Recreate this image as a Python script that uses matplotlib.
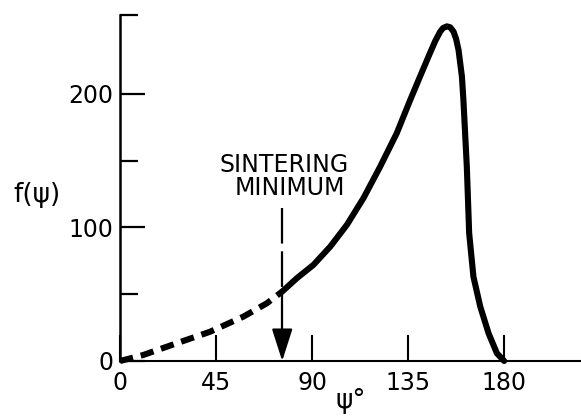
#!/usr/bin/env python

import numpy
import matplotlib
matplotlib.use('Agg')
import matplotlib.pyplot as plt

# angle psi (deg) and f(psi)
psi_dashed = [0., 10.9, 26.6, 42.2, 57.8, 68.8, 76.]
f_dashed = [0., 4.5, 13.3, 21.9, 33.2, 43.2, 52.]
psi_solid = [76., 82.8, 90.6, 98.5, 106.3, 114.1, 121.9, 129.7, 136.0, 140.6, 145.3,
             147.7, 150.0, 151.4, 153.2, 154.7, 156.3, 157.5, 158.6, 160.2, 160.9,
             162.5, 163.6, 165.6, 168.8, 172.7, 176.6, 180.]
f_solid = [52., 61.9, 71.9, 85.6, 101.9, 122., 145.5, 170.6, 195.5, 213.0, 230.7,
           239.5, 246.5, 249.3, 250.5, 249.8, 246.5, 241.0, 233.0, 213.0, 195.5,
           145.5, 95.7, 63.1, 40.7, 20.7, 5.8, 0.]

sinter_min = 76.        # deg, arrow position
xticks = [0, 45, 90, 135, 180]
yticks_major = [0, 100, 200]
yticks_minor = [50, 150, 259]
xlim = (0, 216); ylim = (0, 259)

def main():
  fig = plt.figure(figsize=(5.81, 4.16), dpi=100)
  ax = fig.add_axes([120/581., 55/416., 461/581., 346/416.])
  ax.set_xlim(*xlim); ax.set_ylim(*ylim)

  lw = 4.4
  ax.plot(psi_dashed, f_dashed, 'k', linewidth=lw, linestyle=(0, (2.2, 1.3)),
          solid_capstyle='butt', dash_capstyle='butt', clip_on=False)
  ax.plot(psi_solid, f_solid, 'k', linewidth=lw, solid_joinstyle='round',
          solid_capstyle='round', clip_on=False)

  # sintering minimum arrow
  ax.plot([sinter_min, sinter_min], [114.6, 18.], 'k', linewidth=1.6,
          linestyle=(0, (16, 3.5)))
  ax.annotate('', xy=(sinter_min, 0.), xytext=(sinter_min, 21.),
              arrowprops=dict(arrowstyle='-|>,head_length=1.0,head_width=0.32',
                              color='k', linewidth=1.6, shrinkA=0, shrinkB=0,
                              mutation_scale=20))
  ax.text(sinter_min + 0.8, 146.8, 'SINTERING', ha='center', va='center', fontsize=17)
  ax.text(sinter_min + 3.5, 129.6, 'MINIMUM', ha='center', va='center', fontsize=17)

  for s in ['top', 'right']: ax.spines[s].set_visible(False)
  ax.spines['left'].set_linewidth(1.8)
  ax.spines['bottom'].set_linewidth(1.5)

  ax.set_xticks(xticks)
  ax.set_xticklabels([str(t) for t in xticks])
  ax.set_yticks(yticks_major)
  ax.set_yticklabels([str(t) for t in yticks_major])
  ax.set_yticks(yticks_minor, minor=True)
  ax.tick_params(axis='x', direction='in', length=19, width=1.5, pad=7, labelsize=17)
  ax.tick_params(axis='y', which='major', direction='in', length=18, width=1.6, pad=5, labelsize=17)
  ax.tick_params(axis='y', which='minor', direction='in', length=13, width=1.6)

  fig.text(37/581., 1 - 195/416., u'f(\u03c8)', ha='center', va='center', fontsize=19)
  fig.text(351/581., 1 - 401/416., u'\u03c8\u00b0', ha='center', va='center', fontsize=19)

  plt.savefig('out.png', dpi=100)

if __name__ == '__main__':
  main()
